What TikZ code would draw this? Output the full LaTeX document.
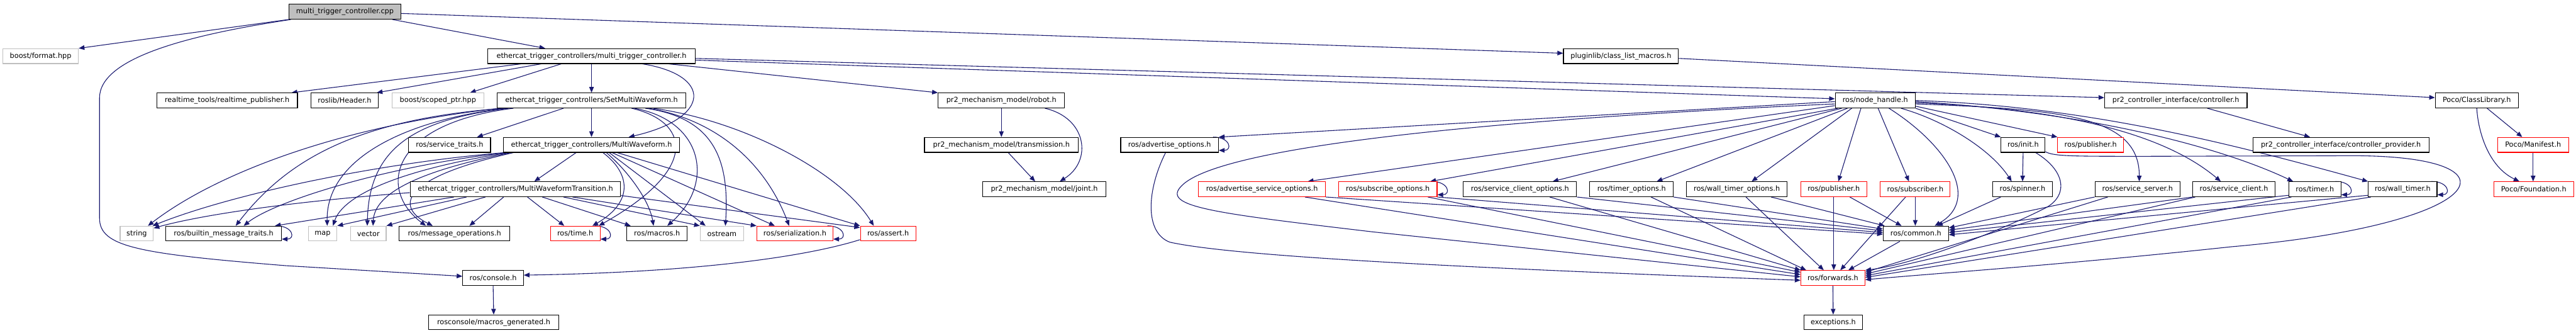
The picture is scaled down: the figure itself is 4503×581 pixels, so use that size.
\documentclass[tikz,border=0pt]{standalone}
\usepackage{fontspec}
\setmainfont{DejaVu Sans}
\usetikzlibrary{arrows.meta}
\definecolor{edgec}{HTML}{191970}
\definecolor{grayb}{HTML}{BFBFBF}
\definecolor{redb}{HTML}{FF0000}
\newcommand{\nfont}{\fontsize{12.4}{14}\selectfont}
\pgfdeclarelayer{back}
\pgfdeclarelayer{edges}
\pgfsetlayers{back,edges,main}
\tikzset{
  nb/.style={rectangle, draw=black, fill=white, line width=1.2pt, minimum height=26pt, inner sep=0pt, font=\nfont},
  doc/.style={nb},
  ext/.style={nb, draw=grayb},
  trunc/.style={nb, draw=redb},
  rootbox/.style={nb, fill=grayb},
  dep/.style={draw=edgec, line width=1.2pt, -{Triangle[length=10pt,width=8pt]}},
}
\newcommand{\selfloopdep}[1]{\draw[dep] ([xshift=-10pt]#1.north east) .. controls +(30,0) and +(24,0) .. ([yshift=4pt]#1.south east);}
\begin{document}
\begin{tikzpicture}[x=1pt,y=1pt]
\useasboundingbox (0,0) rectangle (4503,581);
\begin{pgfonlayer}{back}
\fill[white] (0,0) rectangle (4503,581);
\end{pgfonlayer}
% row 0
\node[rootbox, minimum width=196pt] (cpp) at (603,560.5) {multi\_trigger\_controller.cpp};
% row 1
\node[ext, minimum width=132pt] (fmt) at (71,483) {boost/format.hpp};
\node[doc, minimum width=362pt] (mtch) at (1034,483) {ethercat\_trigger\_controllers/multi\_trigger\_controller.h};
\node[doc, minimum width=201pt] (plug) at (2833.5,483) {pluginlib/class\_list\_macros.h};
% row 2
\node[doc, minimum width=246pt] (rtp) at (397,405.5) {realtime\_tools/realtime\_publisher.h};
\node[doc, minimum width=117pt] (hdr) at (602.5,405.5) {roslib/Header.h};
\node[ext, minimum width=161pt] (scp) at (765.5,405.5) {boost/scoped\_ptr.hpp};
\node[doc, minimum width=330pt] (smw) at (1034,405.5) {ethercat\_trigger\_controllers/SetMultiWaveform.h};
\node[doc, minimum width=221pt] (robot) at (1750.5,405.5) {pr2\_mechanism\_model/robot.h};
\node[doc, minimum width=140pt] (nh) at (3278,405.5) {ros/node\_handle.h};
\node[doc, minimum width=249pt] (ctrl) at (3803.5,405.5) {pr2\_controller\_interface/controller.h};
\node[doc, minimum width=145pt] (cls) at (4329.5,405.5) {Poco/ClassLibrary.h};
% row 3
\node[doc, minimum width=143pt] (st) at (786,328) {ros/service\_traits.h};
\node[doc, minimum width=308pt] (mw) at (1034,328) {ethercat\_trigger\_controllers/MultiWaveform.h};
\node[doc, minimum width=269pt] (trans) at (1750.5,328) {pr2\_mechanism\_model/transmission.h};
\node[doc, minimum width=171pt] (ao) at (2044.5,328) {ros/advertise\_options.h};
\node[doc, minimum width=77pt] (init) at (3536.5,328) {ros/init.h};
\node[trunc, minimum width=115pt] (pub3) at (3654.5,328) {ros/publisher.h};
\node[doc, minimum width=308pt] (prov) at (4092,328) {pr2\_controller\_interface/controller\_provider.h};
\node[trunc, minimum width=124pt] (man) at (4428,328) {Poco/Manifest.h};
% row 4
\node[doc, minimum width=368pt] (mwt) at (901,250.5) {ethercat\_trigger\_controllers/MultiWaveformTransition.h};
\node[doc, minimum width=215pt] (joint) at (1825.5,250.5) {pr2\_mechanism\_model/joint.h};
\node[trunc, minimum width=222pt] (aso) at (2206,250.5) {ros/advertise\_service\_options.h};
\node[trunc, minimum width=172pt] (subo) at (2426,250.5) {ros/subscribe\_options.h};
\node[doc, minimum width=198pt] (sco) at (2657,250.5) {ros/service\_client\_options.h};
\node[doc, minimum width=146pt] (tmo) at (2852,250.5) {ros/timer\_options.h};
\node[doc, minimum width=176pt] (wto) at (3036,250.5) {ros/wall\_timer\_options.h};
\node[trunc, minimum width=115pt] (pubf) at (3205.5,250.5) {ros/publisher.h};
\node[trunc, minimum width=122pt] (subr) at (3348,250.5) {ros/subscriber.h};
\node[doc, minimum width=105pt] (spin) at (3535.5,250.5) {ros/spinner.h};
\node[doc, minimum width=149pt] (ss) at (3736.5,250.5) {ros/service\_server.h};
\node[doc, minimum width=144pt] (sc) at (3905,250.5) {ros/service\_client.h};
\node[doc, minimum width=91pt] (tmr) at (4046.5,250.5) {ros/timer.h};
\node[doc, minimum width=120pt] (wtmr) at (4200,250.5) {ros/wall\_timer.h};
\node[trunc, minimum width=140pt] (fnd) at (4429,250.5) {Poco/Foundation.h};
% row 5
\node[ext, minimum width=58pt] (str) at (239,173) {string};
\node[doc, minimum width=202pt] (bmt) at (391,173) {ros/builtin\_message\_traits.h};
\node[ext, minimum width=50pt] (mapn) at (564,173) {map};
\node[ext, minimum width=62pt] (vec) at (644,173) {vector};
\node[doc, minimum width=193pt] (mo) at (794.5,173) {ros/message\_operations.h};
\node[trunc, minimum width=87pt] (rtime) at (1005.5,173) {ros/time.h};
\node[doc, minimum width=105pt] (mac) at (1148.5,173) {ros/macros.h};
\node[ext, minimum width=76pt] (ost) at (1262,173) {ostream};
\node[trunc, minimum width=133pt] (ser) at (1389.5,173) {ros/serialization.h};
\node[trunc, minimum width=97pt] (ast) at (1552.5,173) {ros/assert.h};
\node[doc, minimum width=114pt] (com) at (3349,173) {ros/common.h};
% row 6
\node[doc, minimum width=106pt] (con) at (862,95.5) {ros/console.h};
\node[trunc, minimum width=112pt] (fwd) at (3204,95.5) {ros/forwards.h};
% row 7
\node[doc, minimum width=228pt] (mg) at (863,18) {rosconsole/macros\_generated.h};
\node[doc, minimum width=103pt] (exc) at (3204.5,18) {exceptions.h};

\begin{pgfonlayer}{edges}
% from cpp
\draw[dep] (cpp.south west) -- (fmt.north east);
\draw[dep] ([xshift=83pt]cpp.south) -- ([xshift=-81pt]mtch.north);
\draw[dep] ([yshift=-3pt]cpp.east) -- ([yshift=5pt]plug.west);
\draw[dep] ([xshift=4pt]cpp.south west) .. controls (330,520) and (174,480) .. (174,410) -- (174,200) .. controls (174,150) and (240,138) .. (500,117) -- ([yshift=3pt]con.west);
% from mtch
\draw[dep] ([xshift=-123pt]mtch.south) -- ([xshift=-11pt]rtp.north east);
\draw[dep] ([xshift=-88pt]mtch.south) -- ([xshift=-3pt]hdr.north east);
\draw[dep] ([xshift=-53pt]mtch.south) -- ([xshift=-25pt]scp.north east);
\draw[dep] (mtch.south) -- (smw.north);
\draw[dep] ([xshift=89pt]mtch.south) .. controls (1245,450) and (1245,375) .. ([xshift=65pt]mw.north);
\draw[dep] ([xshift=135pt]mtch.south) -- (robot.north west);
\draw[dep] ([yshift=-4pt]mtch.east) -- ([yshift=5pt]ctrl.west);
\draw[dep] ([yshift=-7pt]mtch.east) -- ([yshift=3pt]nh.west);
\draw[dep] ([yshift=-4pt]plug.east) -- ([yshift=5pt]cls.west);
% from smw
\draw[dep] ([xshift=-49pt]smw.south) -- ([xshift=48pt]st.north);
\draw[dep] (smw.south) -- (mw.north);
\draw[dep] ([xshift=6pt]smw.south west) .. controls (600,362) and (380,280) .. ([xshift=-10pt]str.north east);
\draw[dep] ([xshift=11pt]smw.south west) .. controls (620,372) and (500,300) .. ([xshift=21pt]bmt.north);
\draw[dep] ([xshift=16pt]smw.south west) .. controls (700,370) and (570,300) .. ([xshift=8pt]mapn.north);
\draw[dep] ([xshift=21pt]smw.south west) .. controls (720,372) and (645,320) .. ([xshift=-2pt]vec.north);
\draw[dep] ([xshift=29pt]smw.south west) .. controls (680,365) and (660,250) .. ([xshift=-50pt]mo.north);
\draw[dep] ([xshift=70pt]smw.south) .. controls (1200,370) and (1230,290) .. ([xshift=-3pt]rtime.north east);
\draw[dep] ([xshift=75pt]smw.south) .. controls (1230,370) and (1250,260) .. ([xshift=18pt]mac.north);
\draw[dep] ([xshift=94pt]smw.south) .. controls (1250,375) and (1275,300) .. ([xshift=6pt]ost.north);
\draw[dep] ([xshift=100pt]smw.south) .. controls (1260,370) and (1340,290) .. ([xshift=-10pt]ser.north);
\draw[dep] ([xshift=108pt]smw.south) .. controls (1300,370) and (1470,280) .. ([xshift=24pt]ast.north west);
% from mw
\draw[dep] ([xshift=-27pt]mw.south) -- ([xshift=33pt]mwt.north);
\draw[dep] ([xshift=2pt]mw.south west) .. controls (650,295) and (400,240) .. ([xshift=-2pt]str.north east);
\draw[dep] ([xshift=6pt]mw.south west) .. controls (680,292) and (480,230) .. ([xshift=35pt]bmt.north);
\draw[dep] ([xshift=10pt]mw.south west) .. controls (700,285) and (600,240) .. ([xshift=18pt]mapn.north);
\draw[dep] ([xshift=14pt]mw.south west) .. controls (720,280) and (655,240) .. ([xshift=8pt]vec.north);
\draw[dep] ([xshift=18pt]mw.south west) .. controls (700,270) and (690,220) .. ([xshift=-38pt]mo.north);
\draw[dep] ([xshift=20pt]mw.south) .. controls (1100,280) and (1110,230) .. ([xshift=-14pt]rtime.north east);
\draw[dep] ([xshift=26pt]mw.south) .. controls (1100,280) and (1135,230) .. ([xshift=-6pt]mac.north);
\draw[dep] ([xshift=31pt]mw.south) -- ([xshift=10pt]ost.north west);
\draw[dep] ([xshift=36pt]mw.south) -- ([xshift=32pt]ser.north west);
\draw[dep] ([xshift=45pt]mw.south) -- (ast.north west);
% from mwt
\draw[dep] ([yshift=-6pt]mwt.west) .. controls (500,228) and (350,205) .. ([yshift=-4pt]str.north east);
\draw[dep] ([xshift=77pt]mwt.south west) -- ([xshift=-12pt]bmt.north east);
\draw[dep] ([xshift=99pt]mwt.south west) -- (mapn.north east);
\draw[dep] ([xshift=132pt]mwt.south west) -- (vec.north east);
\draw[dep] ([xshift=164pt]mwt.south west) -- ([xshift=26pt]mo.north);
\draw[dep] ([xshift=21pt]mwt.south) -- ([xshift=25pt]rtime.north west);
\draw[dep] ([xshift=47pt]mwt.south) -- ([xshift=7pt]mac.north west);
\draw[dep] ([xshift=84pt]mwt.south) -- (ost.north west);
\draw[dep] ([xshift=100pt]mwt.south) -- (ser.north west);
\draw[dep] ([yshift=-11pt]mwt.east) -- ([yshift=-3pt]ast.north west);
% self loops
\selfloopdep{bmt}
\selfloopdep{rtime}
\selfloopdep{ser}
\selfloopdep{ao}
\selfloopdep{subo}
\selfloopdep{tmr}
\selfloopdep{wtmr}
% assert, console
\draw[dep] ([yshift=3pt]ast.south west) .. controls (1400,130) and (1200,105) .. ([yshift=5pt]con.east);
\draw[dep] (con.south) -- (mg.north);
% pr2 mechanism model
\draw[dep] (robot.south) -- (trans.north);
\draw[dep] ([xshift=76pt]robot.south) .. controls (1900,375) and (1910,300) .. ([xshift=27pt]joint.north);
\draw[dep] ([xshift=12pt]trans.south) -- ([xshift=-16pt]joint.north);
% controller, poco
\draw[dep] ([xshift=55pt]ctrl.south) -- ([xshift=-54pt]prov.north);
\draw[dep] ([xshift=18pt]cls.south) -- ([xshift=-19pt]man.north);
\draw[dep] (cls.south) .. controls (4332,350) and (4350,290) .. ([xshift=-25pt]fnd.north);
\draw[dep] (man.south) -- ([xshift=-1pt]fnd.north);
% from node_handle
\draw[dep] ([yshift=-2pt]nh.west) -- (ao.north east);
\draw[dep] ([yshift=-6pt]nh.west) .. controls (2600,372) and (2130,325) .. (2065,256) .. controls (2030,220) and (2120,209) .. (2400,176) -- ([yshift=2pt]fwd.west);
\draw[dep] ([yshift=-9pt]nh.west) -- ([xshift=80pt]aso.north);
\draw[dep] ([xshift=5pt]nh.south west) -- ([xshift=74pt]subo.north);
\draw[dep] ([xshift=12pt]nh.south west) -- ([xshift=57pt]sco.north);
\draw[dep] ([xshift=22pt]nh.south west) -- ([xshift=44pt]tmo.north);
\draw[dep] ([xshift=-41pt]nh.south) -- ([xshift=26pt]wto.north);
\draw[dep] ([xshift=-25pt]nh.south) -- ([xshift=8pt]pubf.north);
\draw[dep] ([xshift=5pt]nh.south) -- ([xshift=-11pt]subr.north);
\draw[dep] ([xshift=24pt]nh.south) .. controls (3400,330) and (3465,235) .. ([xshift=33pt]com.north);
\draw[dep] ([xshift=45pt]nh.south) .. controls (3400,370) and (3480,320) .. ([xshift=-19pt]spin.north);
\draw[dep] (nh.south east) -- (init.north west);
\draw[dep] ([yshift=-10pt]nh.east) -- (pub3.north west);
\draw[dep] ([yshift=-6pt]nh.east) .. controls (3600,390) and (3740,380) .. ([xshift=3pt]ss.north);
\draw[dep] ([yshift=-4pt]nh.east) .. controls (3600,392) and (3780,350) .. ([xshift=-23pt]sc.north);
\draw[dep] ([yshift=-2pt]nh.east) .. controls (3650,385) and (3880,325) .. ([xshift=-38pt]tmr.north);
\draw[dep] (nh.east) .. controls (3650,395) and (3900,330) .. (wtmr.north west);
% from init
\draw[dep] (init.south) -- (spin.north);
\draw[dep] ([xshift=22pt]init.south) .. controls (3615,280) and (3615,235) .. (3570,215) .. controls (3500,180) and (3350,120) .. (fwd.north east);
\draw[dep] ([yshift=-12pt]init.east) .. controls (3590,308) and (3620,308) .. (3750,308) -- (4100,309) .. controls (4420,312) and (4360,190) .. (3900,150) .. controls (3600,118) and (3400,105) .. ([yshift=-3pt]fwd.east);
% row 4 to common / forwards
\draw[dep] (pubf.south) -- ([xshift=1.5pt]fwd.north);
\draw[dep] ([xshift=28pt]pubf.south) -- ([xshift=-25pt]com.north);
\draw[dep] (subr.south) -- ([xshift=-1pt]com.north);
\draw[dep] ([xshift=-17pt]subr.south) -- ([xshift=13pt]fwd.north);
\draw[dep] ([xshift=15pt]spin.south west) -- ([xshift=37pt]com.north);
\draw[dep] ([xshift=-28pt]com.south) -- ([xshift=27pt]fwd.north);
\draw[dep] ([xshift=60pt]wto.south) -- ([xshift=3pt]com.north west);
\draw[dep] ([xshift=16pt]wto.south) -- ([xshift=-16pt]fwd.north);
\draw[dep] (tmo.south east) -- ([yshift=8pt]com.west);
\draw[dep] ([xshift=34pt]tmo.south) -- ([xshift=10pt]fwd.north west);
\draw[dep] (sco.south east) -- ([yshift=5pt]com.west);
\draw[dep] ([xshift=52pt]sco.south) -- (fwd.north west);
\draw[dep] (subo.south east) -- ([yshift=2pt]com.west);
\draw[dep] ([xshift=70pt]subo.south) -- ([yshift=10pt]fwd.west);
\draw[dep] (aso.south east) -- ([yshift=-1pt]com.west);
\draw[dep] ([xshift=75pt]aso.south) -- ([yshift=6pt]fwd.west);
\draw[dep] ([xshift=-7pt]ao.south) .. controls (2005,250) and (2000,175) .. (2045,158) .. controls (2150,135) and (2500,115) .. ([yshift=-4pt]fwd.west);
\draw[dep] (ss.south west) -- ([yshift=10pt]com.east);
\draw[dep] ([xshift=-52pt]ss.south) -- ([yshift=10pt]fwd.east);
\draw[dep] (sc.south west) -- ([yshift=6pt]com.east);
\draw[dep] ([xshift=5pt]sc.south west) -- ([yshift=7pt]fwd.east);
\draw[dep] ([yshift=3pt]tmr.south west) -- ([yshift=2pt]com.east);
\draw[dep] ([xshift=5pt]tmr.south west) -- ([yshift=4pt]fwd.east);
\draw[dep] ([yshift=3pt]wtmr.south west) -- ([yshift=-2pt]com.east);
\draw[dep] ([xshift=5pt]wtmr.south west) -- ([yshift=1pt]fwd.east);
\draw[dep] (fwd.south) -- (exc.north);
\end{pgfonlayer}
\end{tikzpicture}
\end{document}
